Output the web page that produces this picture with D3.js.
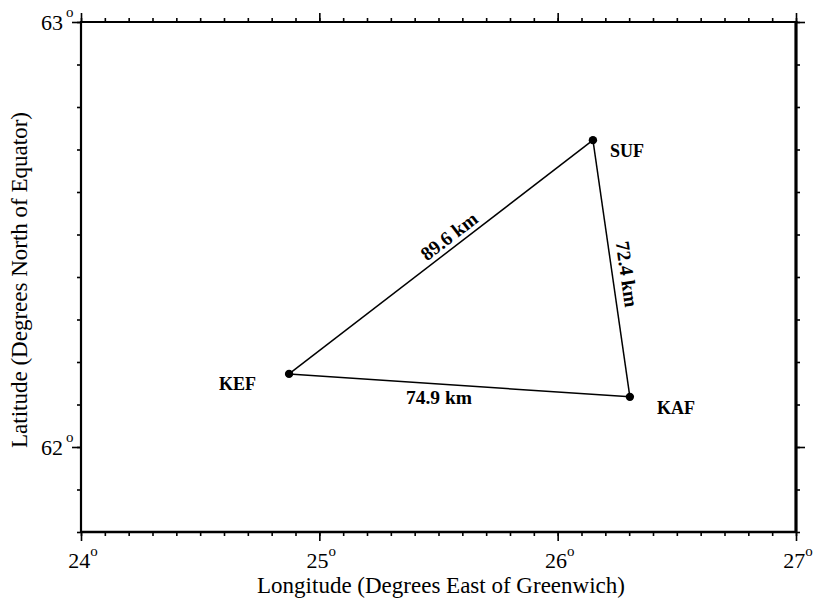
<!DOCTYPE html>
<html>
<head>
<meta charset="utf-8">
<script src="https://cdn.jsdelivr.net/npm/d3@7"></script>
<style>
  html, body { margin: 0; padding: 0; background: #fff; }
  svg { display: block; }
  text { font-family: "Times New Roman", "Liberation Serif", "DejaVu Serif", serif; fill: #000; }
</style>
</head>
<body>
<svg id="chart" width="827" height="599"></svg>
<script>
// Station names and coordinates (degrees)
const stations = ["KEF", "SUF", "KAF"];
const stationLon = [24.873, 26.148, 26.303];
const stationLat = [62.172, 62.722, 62.118];

// Baselines between stations and their lengths
const baselineFrom = ["KEF", "SUF", "KEF"];
const baselineTo = ["SUF", "KAF", "KAF"];
const baselineKm = [89.6, 72.4, 74.9];

// Axis extents and labelled ticks
const lonDomain = [24, 27];
const latDomain = [61.8, 63];
const lonTickLabels = [24, 25, 26, 27];
const latTickLabels = [62, 63];

const svg = d3.select("#chart");
const plotLeft = 81, plotRight = 796, plotTop = 22, plotBottom = 532;

const x = d3.scaleLinear().domain(lonDomain).range([plotLeft, plotRight]);
const y = d3.scaleLinear().domain(latDomain).range([plotBottom, plotTop]);

const minorLon = d3.range(31).map(i => +(24 + i * 0.1).toFixed(1));
const minorLat = d3.range(13).map(i => +(61.8 + i * 0.1).toFixed(1));

function styleAxis(g) {
  g.select(".domain").remove();
  g.selectAll(".tick line").attr("stroke", "#000").attr("stroke-width", 1.6);
  g.selectAll(".tick text").remove();
}

// minor ticks
svg.append("g").attr("transform", `translate(0,${plotBottom})`)
  .call(d3.axisBottom(x).tickValues(minorLon).tickSize(4)).call(styleAxis);
svg.append("g").attr("transform", `translate(0,${plotTop})`)
  .call(d3.axisTop(x).tickValues(minorLon).tickSize(4)).call(styleAxis);
svg.append("g").attr("transform", `translate(${plotLeft},0)`)
  .call(d3.axisLeft(y).tickValues(minorLat).tickSize(4)).call(styleAxis);
svg.append("g").attr("transform", `translate(${plotRight},0)`)
  .call(d3.axisRight(y).tickValues(minorLat).tickSize(4)).call(styleAxis);

// major ticks
svg.append("g").attr("transform", `translate(0,${plotBottom})`)
  .call(d3.axisBottom(x).tickValues(lonTickLabels).tickSize(9)).call(styleAxis);
svg.append("g").attr("transform", `translate(0,${plotTop})`)
  .call(d3.axisTop(x).tickValues(lonTickLabels).tickSize(9)).call(styleAxis);
svg.append("g").attr("transform", `translate(${plotLeft},0)`)
  .call(d3.axisLeft(y).tickValues(latTickLabels).tickSize(9)).call(styleAxis);
svg.append("g").attr("transform", `translate(${plotRight},0)`)
  .call(d3.axisRight(y).tickValues(latTickLabels).tickSize(9)).call(styleAxis);

// frame
const frame = svg.append("g").attr("stroke", "#000").attr("fill", "none");
frame.append("line").attr("x1", plotLeft).attr("x2", plotLeft).attr("y1", plotTop - 1).attr("y2", plotBottom + 1).attr("stroke-width", 2.2);
frame.append("line").attr("x1", plotLeft).attr("x2", plotRight).attr("y1", plotTop).attr("y2", plotTop).attr("stroke-width", 2.2);
frame.append("line").attr("x1", plotRight).attr("x2", plotRight).attr("y1", plotTop - 1).attr("y2", plotBottom + 1).attr("stroke-width", 3.2);
frame.append("line").attr("x1", plotLeft).attr("x2", plotRight).attr("y1", plotBottom).attr("y2", plotBottom).attr("stroke-width", 2.6);

// tick labels with degree marks
const lonLab = svg.append("g").selectAll("text").data(lonTickLabels).join("text")
  .attr("x", d => x(d) + 2).attr("y", plotBottom + 36)
  .attr("font-size", 22).attr("text-anchor", "middle");
lonLab.append("tspan").text(d => d);
lonLab.append("tspan").attr("font-size", 15).attr("dy", -12).text("o");

svg.append("g").selectAll("text").data(latTickLabels).join("text")
  .attr("x", 63).attr("y", d => y(d) + 8)
  .attr("font-size", 22).attr("text-anchor", "end").text(d => d);
svg.append("g").selectAll("text").data(latTickLabels).join("text")
  .attr("x", 66).attr("y", d => y(d) - 5)
  .attr("font-size", 15).text("o");

// axis titles
svg.append("text").attr("x", 441).attr("y", 593)
  .attr("font-size", 23).attr("text-anchor", "middle")
  .text("Longitude (Degrees East of Greenwich)");
svg.append("text").attr("transform", "translate(27,280) rotate(-90)")
  .attr("font-size", 23).attr("text-anchor", "middle")
  .text("Latitude (Degrees North of Equator)");

// baselines
const pos = {};
stations.forEach((s, i) => pos[s] = [x(stationLon[i]), y(stationLat[i])]);

const lines = svg.append("g");
baselineFrom.forEach((f, i) => {
  const a = pos[f], b = pos[baselineTo[i]];
  lines.append("line").attr("x1", a[0]).attr("y1", a[1]).attr("x2", b[0]).attr("y2", b[1])
    .attr("stroke", "#000").attr("stroke-width", 1.5);
});

// baseline length labels: position along segment, baseline offset, follow segment angle
const labelFrac = [0.55, 0.53, 0.44];
const labelOffset = [-5, -8, 20];
const labelFollows = [true, true, false];
baselineFrom.forEach((f, i) => {
  const a = pos[f], b = pos[baselineTo[i]];
  const ang = labelFollows[i] ? Math.atan2(b[1] - a[1], b[0] - a[0]) * 180 / Math.PI : 0;
  const cx = a[0] + (b[0] - a[0]) * labelFrac[i];
  const cy = a[1] + (b[1] - a[1]) * labelFrac[i];
  svg.append("text")
    .attr("transform", `translate(${cx},${cy}) rotate(${ang})`)
    .attr("y", labelOffset[i])
    .attr("font-size", 19.5).attr("font-weight", "bold").attr("text-anchor", "middle")
    .text(baselineKm[i].toFixed(1) + " km");
});

// station markers and names
svg.append("g").selectAll("circle").data(stations).join("circle")
  .attr("cx", d => pos[d][0]).attr("cy", d => pos[d][1]).attr("r", 4.2).attr("fill", "#000");

const nameDx = [-70, 17, 27];
const nameDy = [16, 17, 17];
svg.append("g").selectAll("text").data(stations).join("text")
  .attr("x", (d, i) => pos[d][0] + nameDx[i]).attr("y", (d, i) => pos[d][1] + nameDy[i])
  .attr("font-size", 18).attr("font-weight", "bold")
  .text(d => d);
</script>
</body>
</html>
